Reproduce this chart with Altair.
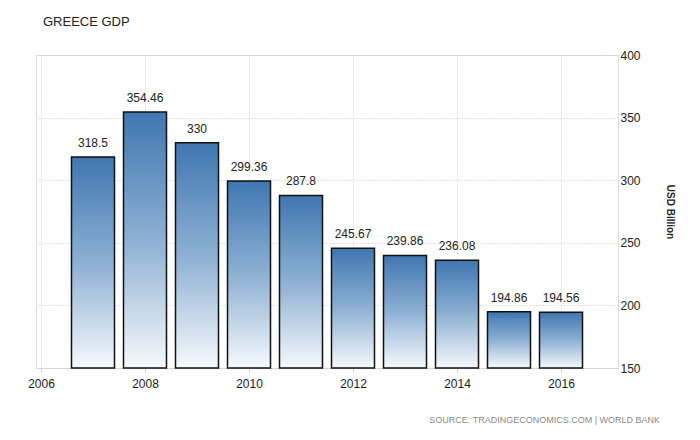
import altair as alt
import pandas as pd

years = [2007, 2008, 2009, 2010, 2011, 2012, 2013, 2014, 2015, 2016]
gdp = [318.5, 354.46, 330, 299.36, 287.8, 245.67, 239.86, 236.08, 194.86, 194.56]
x_ticks = [2006, 2008, 2010, 2012, 2014, 2016]
y_ticks = [150, 200, 250, 300, 350, 400]

df = pd.DataFrame({"year": years, "gdp": gdp, "label": [str(v) for v in gdp]})

FONT = "Liberation Sans"

xs = alt.Scale(domain=[2006, 2017], nice=False, zero=False)
ys = alt.Scale(domain=[150, 400], nice=False, zero=False)

grad = alt.LinearGradient(
    gradient="linear",
    stops=[alt.GradientStop(color="#3f77b1", offset=0),
           alt.GradientStop(color="#8db0d3", offset=0.5),
           alt.GradientStop(color="#f6f9fc", offset=1)],
    x1=0, x2=0, y1=0, y2=1,
)

base = alt.Chart(df)

bars = base.mark_bar(size=43, fill=grad, stroke="#111111", strokeWidth=1.5).encode(
    x=alt.X("year:Q", scale=xs,
            axis=alt.Axis(values=x_ticks, format="d", title=None, grid=True,
                          gridDash=[1, 2], gridColor="#c8c8c8", domain=False,
                          ticks=True, tickColor="#d0d0d0", tickSize=4,
                          labelFont=FONT, labelFontSize=12, labelColor="#222222",
                          labelPadding=6)),
    y=alt.Y("gdp:Q", scale=ys,
            axis=alt.Axis(orient="right", values=y_ticks, title="USD Billion",
                          grid=True, gridDash=[1, 2], gridColor="#c8c8c8",
                          domain=False, ticks=False, labelPadding=2,
                          labelFont=FONT, labelFontSize=12, labelColor="#222222",
                          titleFont=FONT, titleFontSize=10, titleFontWeight="bold",
                          titleColor="#222222", titlePadding=24)),
    y2=alt.Y2Datum(150),
)

labels = base.mark_text(dy=-14, font=FONT, fontSize=12, color="#222222").encode(
    x=alt.X("year:Q", scale=xs),
    y=alt.Y("gdp:Q", scale=ys),
    text="label:N",
)

title = alt.Chart(pd.DataFrame({"t": ["GREECE GDP"]})).mark_text(
    align="left", baseline="middle", font=FONT, fontSize=13, color="#222222"
).encode(x=alt.value(7), y=alt.value(-33), text="t:N")

source = alt.Chart(pd.DataFrame({"t": ["SOURCE: TRADINGECONOMICS.COM | WORLD BANK"]})).mark_text(
    align="right", baseline="middle", font=FONT, fontSize=9, color="#8a8a8a"
).encode(x=alt.value(624), y=alt.value(365), text="t:N")

chart = alt.layer(bars, labels, title, source).properties(
    width=582, height=313,
    autosize=alt.AutoSizeParams(type="none"),
    padding={"left": 28, "top": 47, "right": 74, "bottom": 64},
).configure_view(stroke=None).configure(background="white")

chart.save("out.html", embed_options={"renderer": "svg", "actions": False})
